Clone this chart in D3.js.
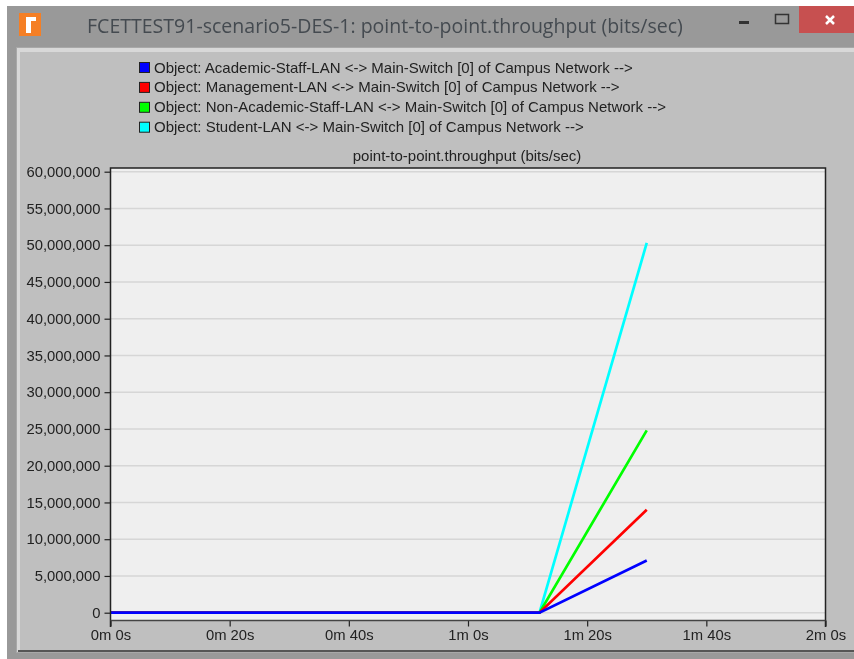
<!DOCTYPE html>
<html>
<head>
<meta charset="utf-8">
<script src="https://cdnjs.cloudflare.com/ajax/libs/d3/7.8.5/d3.min.js"></script>
<style>
  html, body { margin: 0; padding: 0; background: #fff; }
  /* the reference is a slightly soft, upscaled screenshot */
  svg { display: block; filter: blur(0.4px); }
  text { font-family: "Liberation Sans", Arial, sans-serif; fill: #222222; }
</style>
</head>
<body>
<script>
// values
var windowTitle = "FCETTEST91-scenario5-DES-1: point-to-point.throughput (bits/sec)";
var chartTitle = "point-to-point.throughput (bits/sec)";
var seriesNames = [
  "Object: Academic-Staff-LAN <-> Main-Switch [0] of Campus Network -->",
  "Object: Management-LAN <-> Main-Switch [0] of Campus Network -->",
  "Object: Non-Academic-Staff-LAN <-> Main-Switch [0] of Campus Network -->",
  "Object: Student-LAN <-> Main-Switch [0] of Campus Network -->"
];
var seriesColors = ["#0000ff", "#ff0000", "#00ff00", "#00ffff"];
var times = [0, 72, 90];
var academic = [0, 0, 7100000];
var management = [0, 0, 14000000];
var nonAcademic = [0, 0, 24800000];
var student = [0, 0, 50300000];
var seriesValues = [academic, management, nonAcademic, student];
var yTicks = d3.range(0, 60000001, 5000000);
var xTicks = [0, 20, 40, 60, 80, 100, 120];

var svgWidth = 854;
var svgHeight = 659;
var margin = { top: 168, right: 28.5, bottom: 38, left: 110.5 };
var width = svgWidth - margin.left - margin.right;
var height = svgHeight - margin.top - margin.bottom;

var svg = d3.select("body").append("svg")
  .attr("width", svgWidth)
  .attr("height", svgHeight);

// window frame
svg.append("rect").attr("x", 7).attr("y", 6).attr("width", 847).attr("height", 653).attr("fill", "#999999");
svg.append("rect").attr("x", 16).attr("y", 47).attr("width", 838).attr("height", 606).attr("fill", "#a8a8a8");
svg.append("rect").attr("x", 17).attr("y", 48).attr("width", 837).attr("height", 604).attr("fill", "#d8d8d8");
svg.append("rect").attr("x", 20).attr("y", 52).attr("width", 834).attr("height", 599).attr("fill", "#bfbfbf");
svg.append("rect").attr("x", 18).attr("y", 650).attr("width", 836).attr("height", 2).attr("fill", "#555555");

// app icon
svg.append("rect").attr("x", 19).attr("y", 13).attr("width", 22).attr("height", 23).attr("fill", "#f57f25");
svg.append("path").attr("d", "M26 33V17H36V21H31V33Z").attr("fill", "#ffffff");

svg.append("text")
  .attr("x", 87).attr("y", 33)
  .style("font-family", "'Open Sans', sans-serif")
  .style("font-size", "19.55px")
  .style("fill", "#444a50")
  .text(windowTitle);

// window buttons
svg.append("rect").attr("x", 739).attr("y", 21).attr("width", 10).attr("height", 3).attr("fill", "#333333");
svg.append("rect").attr("x", 775.5).attr("y", 14.5).attr("width", 13).attr("height", 9)
  .attr("fill", "none").attr("stroke", "#333333").attr("stroke-width", 1.5);
svg.append("rect").attr("x", 799).attr("y", 6).attr("width", 55).attr("height", 27).attr("fill", "#c75050");
svg.append("path").attr("d", "M826 16L834 24M834 16L826 24")
  .attr("stroke", "#ffffff").attr("stroke-width", 2.5);

// legend
var legend = svg.selectAll(".legend")
  .data(seriesNames)
  .enter()
  .append("g")
  .attr("class", "legend")
  .attr("transform", (d, i) => `translate(139, ${62 + i * 19.9})`);

legend.append("rect")
  .attr("x", 0.5).attr("y", 0.5)
  .attr("width", 10).attr("height", 10)
  .attr("fill", (d, i) => seriesColors[i])
  .attr("stroke", "#222222");

legend.append("text")
  .attr("x", 15).attr("y", 10.5)
  .style("font-size", "15px")
  .text(d => d);

// chart title
svg.append("text")
  .attr("x", margin.left + width / 2 - 1).attr("y", 161)
  .attr("text-anchor", "middle")
  .style("font-size", "15px")
  .text(chartTitle);

var chartGroup = svg.append("g")
  .attr("transform", `translate(${margin.left}, ${margin.top})`);

var xScale = d3.scaleLinear().domain([0, 120]).range([0, width]);
var yScale = d3.scaleLinear().domain([0, 60000000]).range([444.7, 3.7]);

chartGroup.append("rect")
  .attr("width", width).attr("height", height)
  .attr("fill", "#efefef");

// gridlines
chartGroup.selectAll(".grid")
  .data(yTicks)
  .enter()
  .append("line")
  .attr("class", "grid")
  .attr("x1", 0).attr("x2", width)
  .attr("y1", d => yScale(d)).attr("y2", d => yScale(d))
  .attr("stroke", "#d6d6d6").attr("stroke-width", 1.5);

// cyan first so blue ends up on top
var line = d3.line()
  .x((d, i) => xScale(times[i]))
  .y(d => yScale(d));

[3, 2, 1, 0].forEach(function(s) {
  chartGroup.append("path")
    .datum(seriesValues[s])
    .attr("d", line)
    .attr("fill", "none")
    .attr("stroke", seriesColors[s])
    .attr("stroke-width", 2.7);
});

// axes
var leftAxis = d3.axisLeft(yScale)
  .tickValues(yTicks)
  .tickFormat(d3.format(","))
  .tickSize(6)
  .tickPadding(4);

var bottomAxis = d3.axisBottom(xScale)
  .tickValues(xTicks)
  .tickFormat(d => `${Math.floor(d / 60)}m ${d % 60}s`)
  .tickSize(6)
  .tickPadding(3);

var yAxis = chartGroup.append("g").call(leftAxis);
var xAxis = chartGroup.append("g")
  .attr("transform", `translate(0, ${height - 0.5})`)
  .call(bottomAxis);

yAxis.select(".domain").remove();
xAxis.select(".domain").remove();

[yAxis, xAxis].forEach(function(axis) {
  axis.selectAll("text")
    .style("font-family", "'Liberation Sans', Arial, sans-serif")
    .style("font-size", "14.8px");
  axis.selectAll("line").attr("stroke", "#222222").attr("stroke-width", 1.2);
});

// plot border, the side lines run down past the bottom line
chartGroup.append("path")
  .attr("d", d3.line()([[0, height + 6], [0, 0], [width, 0], [width, height + 6]]))
  .attr("fill", "none").attr("stroke", "#222222").attr("stroke-width", 1.5);
chartGroup.append("line")
  .attr("x1", 0).attr("x2", width)
  .attr("y1", height - 0.5).attr("y2", height - 0.5)
  .attr("stroke", "#444444").attr("stroke-width", 1.5);
</script>
</body>
</html>
